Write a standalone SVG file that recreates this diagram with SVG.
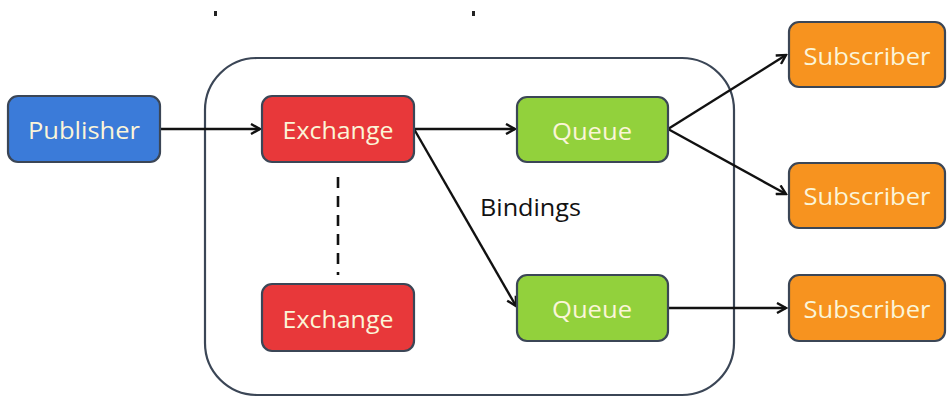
<svg xmlns="http://www.w3.org/2000/svg" width="947" height="398" viewBox="0 0 947 398">
<defs>
<style>
.node{stroke:#3b4656;stroke-width:2.2}
.lbl{font-family:"Open Sans","Liberation Sans",sans-serif;font-size:24px;fill:#fbf5d8;text-anchor:middle;dominant-baseline:central}
.edge{stroke:#111;stroke-width:2.4;fill:none;marker-end:url(#ah)}
</style>
<marker id="ah" markerWidth="12" markerHeight="12" refX="10" refY="6" orient="auto" markerUnits="userSpaceOnUse">
<path d="M1,1 L10,6 L1,11" fill="none" stroke="#111" stroke-width="2.4"/>
</marker>
</defs>
<rect width="947" height="398" fill="#fff"/>
<rect x="214" y="11" width="3" height="5" fill="#222"/>
<rect x="472" y="11" width="3" height="5" fill="#222"/>
<g id="container">
<rect x="205" y="58" width="529" height="337" rx="52" ry="52" fill="none" stroke="#3b4656" stroke-width="2.2"/>
</g>
<g id="connectors">
<line class="edge" x1="160" y1="129" x2="260" y2="129"/>
<line class="edge" x1="414" y1="129" x2="515" y2="129"/>
<line class="edge" x1="414" y1="129" x2="516" y2="306"/>
<line class="edge" x1="668" y1="129" x2="786" y2="55"/>
<line class="edge" x1="668" y1="129" x2="786" y2="194"/>
<line class="edge" x1="668" y1="308" x2="786" y2="308"/>
<line x1="338" y1="177" x2="338" y2="275" stroke="#111" stroke-width="2.6" stroke-dasharray="11,8"/>
</g>
<g id="publisher"><rect class="node" x="8" y="96" width="152" height="66" rx="10" fill="#3b7bd9"/><text class="lbl" x="84" y="129" textLength="112" lengthAdjust="spacingAndGlyphs">Publisher</text></g>
<g id="exchange1"><rect class="node" x="262" y="96" width="152" height="66" rx="10" fill="#e8383a"/><text class="lbl" x="338" y="129" textLength="111" lengthAdjust="spacingAndGlyphs">Exchange</text></g>
<g id="exchange2"><rect class="node" x="262" y="284" width="152" height="67" rx="10" fill="#e8383a"/><text class="lbl" x="338" y="318" textLength="111" lengthAdjust="spacingAndGlyphs">Exchange</text></g>
<g id="queue1"><rect class="node" x="517" y="97" width="151" height="65" rx="10" fill="#92d13c"/><text class="lbl" x="592" y="130" textLength="80" lengthAdjust="spacingAndGlyphs">Queue</text></g>
<g id="queue2"><rect class="node" x="517" y="275" width="151" height="66" rx="10" fill="#92d13c"/><text class="lbl" x="592" y="308" textLength="80" lengthAdjust="spacingAndGlyphs">Queue</text></g>
<g id="subscriber1"><rect class="node" x="789" y="22" width="156" height="65" rx="10" fill="#f7931f"/><text class="lbl" x="867" y="55" textLength="127" lengthAdjust="spacingAndGlyphs">Subscriber</text></g>
<g id="subscriber2"><rect class="node" x="789" y="163" width="156" height="65" rx="10" fill="#f7931f"/><text class="lbl" x="867" y="195" textLength="127" lengthAdjust="spacingAndGlyphs">Subscriber</text></g>
<g id="subscriber3"><rect class="node" x="789" y="275" width="156" height="66" rx="10" fill="#f7931f"/><text class="lbl" x="867" y="308" textLength="127" lengthAdjust="spacingAndGlyphs">Subscriber</text></g>
<g id="bindings-label"><text x="480" y="207" font-family="Open Sans, Liberation Sans, sans-serif" font-size="23" fill="#111" dominant-baseline="central" textLength="101" lengthAdjust="spacingAndGlyphs">Bindings</text></g>
</svg>
